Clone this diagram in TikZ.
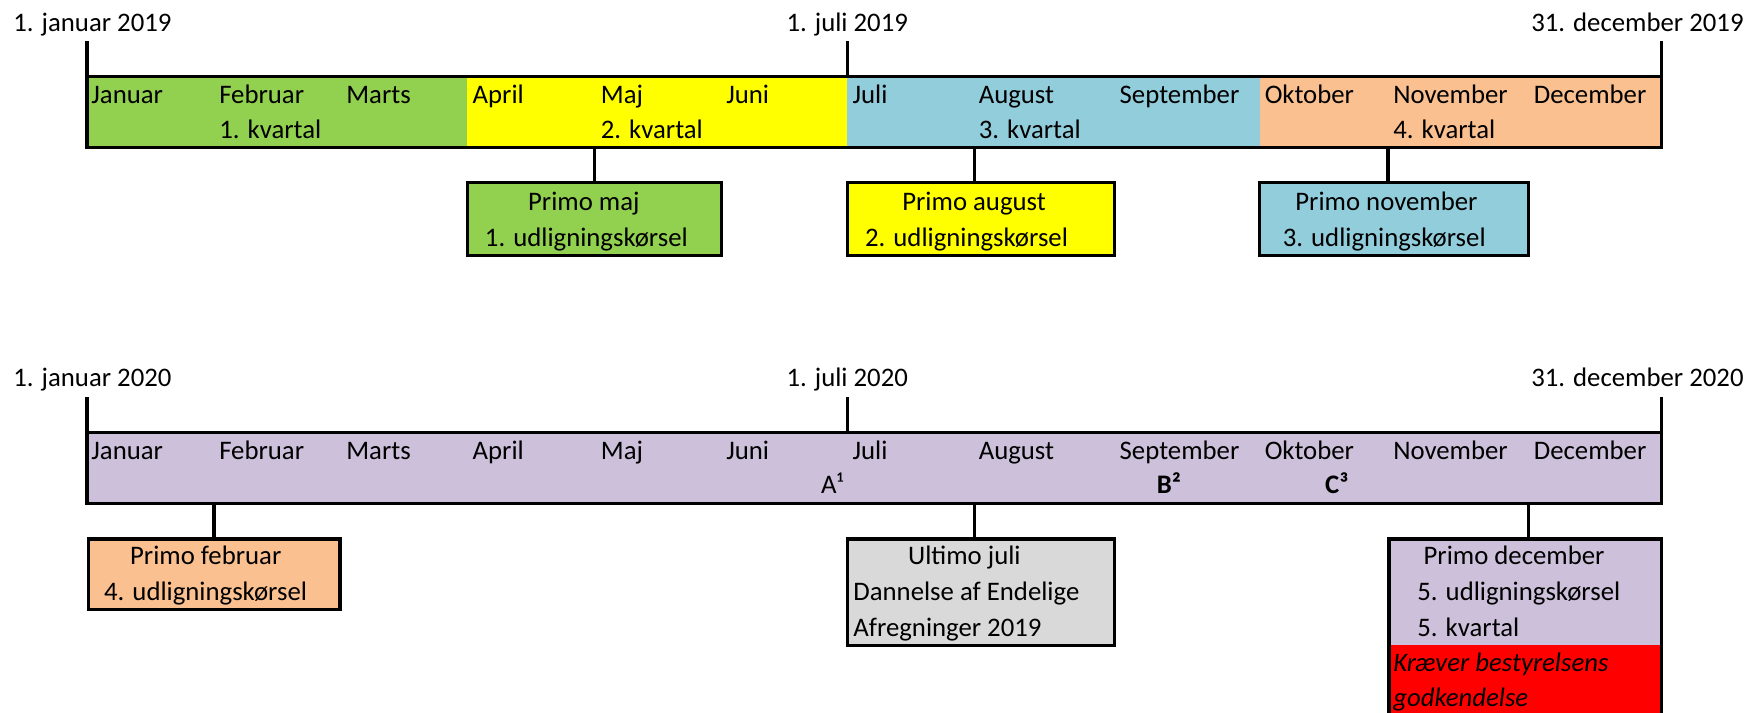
\documentclass[tikz,border=0pt]{standalone}
\usepackage{fontspec}
\setmainfont{Carlito}
\definecolor{cgreen}{HTML}{92D050}
\definecolor{cyellow}{HTML}{FFFF00}
\definecolor{cblue}{HTML}{92CDDC}
\definecolor{cpeach}{HTML}{FAC090}
\definecolor{clav}{HTML}{CCC0DA}
\definecolor{cgrey}{HTML}{D9D9D9}
\definecolor{cred}{HTML}{FF0000}
\begin{document}
\begin{tikzpicture}[x=0.5pt,y=-0.5pt,
  txt/.style={inner sep=0pt, outer sep=0pt, anchor=base west, font=\fontsize{12pt}{14pt}\selectfont},
  frame/.style={draw=black, line width=1.4pt},
  conn/.style={draw=black, line width=1.4pt},
  boxnode/.style={frame, inner sep=0pt, outer sep=0pt, anchor=north west}]
\clip (0,0) rectangle (1568,639);
\fill[white] (0,0) rectangle (1568,639);

% ---------- 2019 ----------
\fill[cgreen] (78,69) rectangle (419,132);
\fill[cyellow] (419,69) rectangle (760,132);
\fill[cblue] (760,69) rectangle (1130,132);
\fill[cpeach] (1130,69) rectangle (1490,132);
\node[boxnode, minimum width=706pt, minimum height=31.5pt] (bar1) at (78,69) {};

\node[txt] (l1a) at (12,28.4) {1. januar 2019};
\node[txt, anchor=base] (l1b) at (760,28.4) {1. juli 2019};
\node[txt, anchor=base east] (l1c) at (1564,28.4) {31. december 2019};
\coordinate (t1a) at (78,37);
\coordinate (t1b) at (760,37);
\coordinate (t1c) at (1490,37);
\draw[conn] (t1a) -- (bar1.north west);
\draw[conn] (t1b) -- (t1b |- bar1.north);
\draw[conn] (t1c) -- (bar1.north east);

\node[txt] (m1) at (82,92.7) {Januar};
\node[txt] (m2) at (196.7,92.7) {Februar};
\node[txt] (m3) at (310.7,92.7) {Marts};
\node[txt] (m4) at (424,92.7) {April};
\node[txt] (m5) at (539,92.7) {Maj};
\node[txt] (m6) at (651.5,92.7) {Juni};
\node[txt] (m7) at (764.8,92.7) {Juli};
\node[txt] (m8) at (878,92.7) {August};
\node[txt] (m9) at (1004.4,92.7) {September};
\node[txt] (m10) at (1134.5,92.7) {Oktober};
\node[txt] (m11) at (1249.8,92.7) {November};
\node[txt] (m12) at (1375.9,92.7) {December};
\node[txt] (q1) at (196.7,124) {1. kvartal};
\node[txt] (q2) at (539,124) {2. kvartal};
\node[txt] (q3) at (878,124) {3. kvartal};
\node[txt] (q4) at (1249.8,124) {4. kvartal};

\node[boxnode, fill=cgreen, minimum width=114pt, minimum height=32.5pt] (box1) at (419,164) {};
\node[boxnode, fill=cyellow, minimum width=120pt, minimum height=32.5pt] (box2) at (760,164) {};
\node[boxnode, fill=cblue, minimum width=120.5pt, minimum height=32.5pt] (box3) at (1130,164) {};
\coordinate (k1) at (533,132);
\coordinate (k2) at (874,132);
\coordinate (k3) at (1245,132);
\draw[conn] (k1) -- (k1 |- box1.north);
\draw[conn] (k2) -- (k2 |- box2.north);
\draw[conn] (k3) -- (k3 |- box3.north);

\node[txt] (b1a) at (473.7,188.4) {Primo maj};
\node[txt] (b1b) at (435,220.7) {1. udligningskørsel};
\node[txt] (b2a) at (809.4,188.4) {Primo august};
\node[txt] (b2b) at (776,220.7) {2. udligningskørsel};
\node[txt] (b3a) at (1162,188.4) {Primo november};
\node[txt] (b3b) at (1150.7,220.7) {3. udligningskørsel};

% ---------- 2020 ----------
\node[boxnode, fill=clav, minimum width=706pt, minimum height=31.75pt] (bar2) at (78,388) {};
\node[txt] (l2a) at (12,347) {1. januar 2020};
\node[txt, anchor=base] (l2b) at (760,347) {1. juli 2020};
\node[txt, anchor=base east] (l2c) at (1564,347) {31. december 2020};
\coordinate (t2a) at (78,356);
\coordinate (t2b) at (760,356);
\coordinate (t2c) at (1490,356);
\draw[conn] (t2a) -- (bar2.north west);
\draw[conn] (t2b) -- (t2b |- bar2.north);
\draw[conn] (t2c) -- (bar2.north east);

\node[txt] (n1) at (82,412) {Januar};
\node[txt] (n2) at (196.7,412) {Februar};
\node[txt] (n3) at (310.7,412) {Marts};
\node[txt] (n4) at (424,412) {April};
\node[txt] (n5) at (539,412) {Maj};
\node[txt] (n6) at (651.5,412) {Juni};
\node[txt] (n7) at (764.8,412) {Juli};
\node[txt] (n8) at (878,412) {August};
\node[txt] (n9) at (1004.4,412) {September};
\node[txt] (n10) at (1134.5,412) {Oktober};
\node[txt] (n11) at (1249.8,412) {November};
\node[txt] (n12) at (1375.9,412) {December};
\node[txt] (ma) at (736.6,442.5) {A¹};
\node[txt, font=\fontsize{12pt}{14pt}\selectfont\bfseries] (mb) at (1037.7,442.5) {B²};
\node[txt, font=\fontsize{12pt}{14pt}\selectfont\bfseries] (mc) at (1188.7,442.5) {C³};

\node[boxnode, fill=cpeach, minimum width=113pt, minimum height=31.75pt] (box4) at (79,483.5) {};
\node[boxnode, fill=cgrey, minimum width=120pt, minimum height=47.75pt] (box5) at (760,483.5) {};
\node[boxnode, draw=none, fill=clav, minimum width=122pt, minimum height=110pt] (box6) at (1246,483.5) {};
\fill[cred] (1246,578.6) rectangle (1490,720);
\draw[frame] (box6.north west) rectangle (box6.south east);
\coordinate (k4) at (192,451.5);
\coordinate (k5) at (874,451.5);
\coordinate (k6) at (1371,451.5);
\draw[conn] (k4) -- (k4 |- box4.north);
\draw[conn] (k5) -- (k5 |- box5.north);
\draw[conn] (k6) -- (k6 |- box6.north);

\node[txt] (b4a) at (116.7,506.8) {Primo februar};
\node[txt] (b4b) at (93.4,538.8) {4. udligningskørsel};
\node[txt] (b5a) at (814.6,506.8) {Ultimo juli};
\node[txt] (b5b) at (765.5,538.8) {Dannelse af Endelige};
\node[txt] (b5c) at (765.5,571) {Afregninger 2019};
\node[txt] (b6a) at (1277,506.8) {Primo december};
\node[txt] (b6b) at (1271.4,538.8) {5. udligningskørsel};
\node[txt] (b6c) at (1271.4,571) {5. kvartal};
\node[txt, font=\fontsize{12pt}{14pt}\selectfont\itshape] (b6d) at (1249.8,602.5) {Kræver bestyrelsens};
\node[txt, font=\fontsize{12pt}{14pt}\selectfont\itshape] (b6e) at (1249.8,634) {godkendelse};
\end{tikzpicture}
\end{document}
